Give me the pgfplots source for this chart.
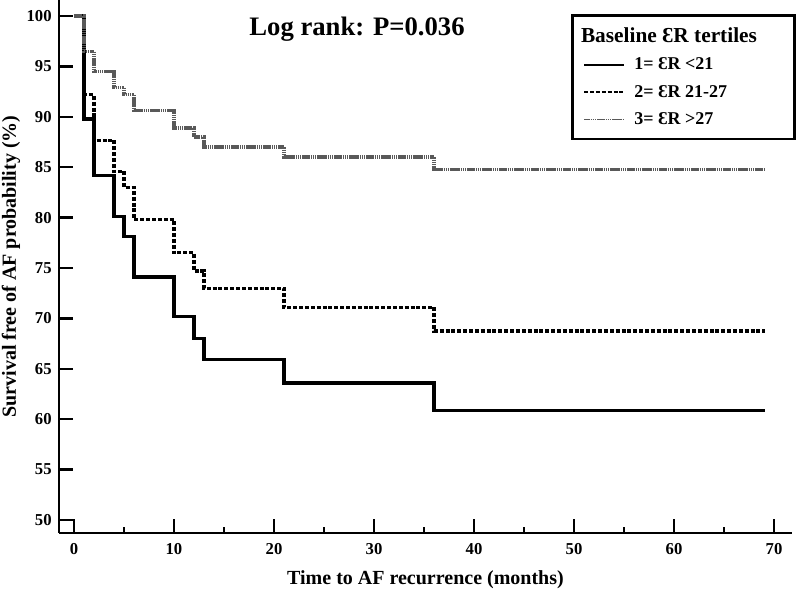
\documentclass[border=0pt]{standalone}
\usepackage{pgfplots}
\pgfplotsset{compat=1.18}
\usepackage{fontspec}
\setmainfont{Liberation Serif}

\begin{document}
\begin{tikzpicture}
\useasboundingbox (-44.25pt,-43.5pt) rectangle (553.5pt,399.75pt);
\begin{axis}[
    scale only axis,
    width=549.75pt, height=399.75pt,
    xmin=-1.5, xmax=71.8,
    ymin=48.7, ymax=101.6,
    axis lines=left,
    axis line style={-, line width=2.2pt},
    tick align=inside,
    tick style={black, line width=1.8pt},
    major tick length=10.5pt,
    minor tick length=4.5pt,
    xtick={0,10,...,70},
    minor xtick={5,15,...,65},
    ytick={50,55,...,100},
    /pgf/number format/assume math mode=true,
    ticklabel style={font=\bfseries\fontsize{12.5}{15}\selectfont},
    xticklabel style={yshift=-4pt},
    yticklabel style={xshift=-2pt},
    xlabel={Time to AF recurrence (months)},
    ylabel={Survival free of AF probability (\%)},
    label style={font=\bfseries\fontsize{15}{18}\selectfont},
    xlabel style={at={(axis description cs:0.5,-0.088)}, anchor=center},
    ylabel style={at={(axis description cs:-0.0655,0.5)}, anchor=center},
    const plot,
    legend cell align=left,
    legend style={
        at={(rel axis cs:1.005,0.974)}, anchor=north east,
        draw=black, line width=2pt,
        font=\bfseries\fontsize{13.5}{16}\selectfont,
        inner xsep=8pt, inner ysep=7.5pt,
        row sep=6pt, column sep=5pt,
    },
    legend image code/.code={\draw[#1, line width=1.2pt] (0pt,0pt) -- (30pt,0pt);},
]
% legend title row
\addlegendimage{empty legend}
\addlegendentry{\hspace*{-40pt}\fontsize{16}{19}\selectfont Baseline ƐR tertiles}

% tertile 1
\addplot[black, line width=2.5pt] coordinates {
    (0,100) (1,89.8) (2,84.2) (4,80.1) (5,78.1) (6,74.1)
    (10,70.2) (12,68.0) (13,65.9) (21,63.6) (36,60.85) (69.1,60.85)
};
\addlegendentry{\makebox[110pt][l]{1= ƐR <21}}

% tertile 2
\addplot[black, line width=2.3pt, dash pattern=on 3pt off 1.4pt] coordinates {
    (0,100) (1,92.2) (2,87.7) (4,84.6) (5,83.0) (6,79.8)
    (10,76.5) (12,74.7) (13,73.0) (21,71.1) (36,68.75) (69.1,68.75)
};
\addlegendentry{2= ƐR 21-27}

% tertile 3
\addplot[black!65, line width=2.5pt, dash pattern=on 1.2pt off 0.4pt] coordinates {
    (0,100) (1,96.5) (2,94.5) (4,92.9) (5,92.2) (6,90.6)
    (10,88.9) (12,88.0) (13,87.0) (21,86.0) (36,84.8) (69.1,84.8)
};
\addlegendentry{3= ƐR >27}

\node[font=\bfseries\fontsize{20}{24}\selectfont] at (axis cs:28.3,98.7) {Log rank: P=0.036};
\end{axis}
\end{tikzpicture}
\end{document}
